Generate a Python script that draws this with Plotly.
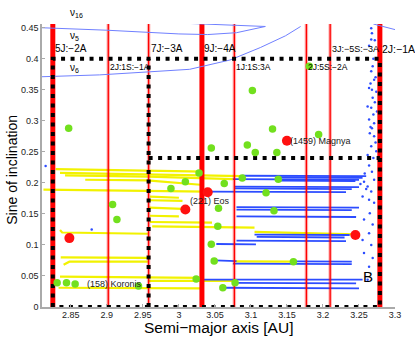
import plotly.graph_objects as go

# --- mean-motion resonances (semi-major axis in AU) ---
res_a = [2.825, 2.902, 2.958, 3.032, 3.077, 3.177, 3.210, 3.279]
res_name = ["5J:\u22122A", "2J:1S:\u22121A", "7J:\u22123A", "9J:\u22124A",
            "1J:1S:3A", "2J:5S:\u22122A", "3J:\u22125S:\u22123A", "2J:\u22121A"]
res_strong = [True, False, False, True, False, False, False, True]
res_label_y = [0.416, 0.386, 0.416, 0.416, 0.386, 0.386, 0.416, 0.416]
res_label_size = [10, 8.5, 10, 10, 8.5, 8.5, 9, 10.5]

# --- family region boundaries (dashed black) ---
box_a = [2.825, 2.825, 3.279, 3.279, 2.825, None, 2.958, 2.958, None, 2.958, 3.279]
box_sini = [0, 0.4, 0.4, 0, 0, None, 0, 0.4, None, 0.24, 0.24]

# --- secular resonances ---
nu6_a = [2.809, 2.89, 2.96, 3.015, 3.071, 3.113, 3.148, 3.169]
nu6_sini = [0.371, 0.374, 0.379, 0.383, 0.398, 0.418, 0.437, 0.452]
nu5_a = [2.809, 2.90, 3.00, 3.04, 3.08, 3.12, None, 3.27, 3.30]
nu5_sini = [0.450, 0.446, 0.440, 0.439, 0.442, 0.452, None, 0.456, 0.447]
nu16_a = [2.99, 3.04, 3.09, 3.12]
nu16_sini = [0.458, 0.456, 0.454, 0.452]

# --- orbital tracks (yellow / blue) ---
yellow_a = [2.829, 2.958, 3.035, None,
            2.835, 2.958, 3.088, None,
            2.842, 2.958, 3.075, None,
            2.870, 2.956, 3.030, None,
            2.812, 2.957, 3.038, None,
            2.960, 3.000, None,
            2.960, 3.005, None,
            2.959, 3.005, None,
            2.960, 3.000, None,
            2.960, 3.046, None,
            2.963, 3.046, 3.105, None,
            3.105, 3.245, None,
            2.835, 2.838, 2.957, None,
            2.836, 2.957, None,
            2.840, 2.848, 2.957, None,
            3.079, 3.163, None,
            2.835, 2.957, 3.030, None,
            2.957, 3.074, None,
            2.833, 2.955, 3.030]
yellow_sini = [0.222, 0.220, 0.218, None,
               0.216, 0.214, 0.211, None,
               0.212, 0.210, 0.206, None,
               0.205, 0.204, 0.197, None,
               0.189, 0.187, 0.186, None,
               0.178, 0.176, None,
               0.172, 0.171, None,
               0.160, 0.158, None,
               0.147, 0.146, None,
               0.137, 0.136, None,
               0.130, 0.129, 0.128, None,
               0.121, 0.117, None,
               0.124, 0.120, 0.118, None,
               0.080, 0.079, None,
               0.068, 0.073, 0.073, None,
               0.0735, 0.073, None,
               0.049, 0.048, 0.047, None,
               0.042, 0.042, None,
               0.031, 0.030, 0.030]

blue_a = [3.088, 3.260, None, 3.140, 3.255, None, 3.075, 3.250, None,
          3.140, 3.245, None, 3.077, 3.250, None, 3.077, 3.240, None,
          3.038, 3.232, None, 3.080, 3.250, None, 3.080, 3.240, None,
          3.080, 3.246, None, 3.105, 3.237, None, 3.108, 3.230, None,
          3.080, 3.232, None, 3.052, 3.107, None, 3.050, 3.080, None,
          3.163, 3.240, None, 3.075, 3.240, None, 3.028, 3.255, None,
          3.074, 3.246, None, 3.060, 3.250]
blue_sini = [0.2115, 0.211, None, 0.209, 0.208, None, 0.206, 0.205, None,
             0.2035, 0.203, None, 0.194, 0.193, None, 0.191, 0.190, None,
             0.186, 0.185, None, 0.161, 0.160, None, 0.157, 0.156, None,
             0.146, 0.145, None, 0.1165, 0.116, None, 0.113, 0.112, None,
             0.107, 0.106, None, 0.1015, 0.101, None, 0.075, 0.074, None,
             0.0735, 0.073, None, 0.070, 0.069, None, 0.044, 0.044, None,
             0.039, 0.038, None, 0.031, 0.030]

scatter_a = [3.267, 3.268, 3.267, 3.264, 3.269, 3.267, 3.271, 3.264, 3.268, 3.274,
             3.269, 3.262, 3.267, 3.270, 3.264, 3.271, 3.268, 3.265, 3.271, 3.267,
             3.274, 3.264, 3.268, 3.257, 3.271, 3.262, 3.267, 3.255, 3.264, 3.271,
             3.265, 3.257, 3.269, 3.264, 3.255, 3.267, 3.257, 3.269, 3.264, 3.262,
             2.815, 2.879, 3.272, 3.270, 3.273, 3.266, 3.272, 3.275, 3.266, 3.273,
             3.262, 3.270, 3.258, 3.252, 3.260]
scatter_sini = [0.449, 0.441, 0.431, 0.421, 0.388, 0.380, 0.366, 0.353, 0.350, 0.347,
                0.337, 0.323, 0.321, 0.310, 0.302, 0.296, 0.288, 0.280, 0.275, 0.259,
                0.251, 0.228, 0.218, 0.202, 0.205, 0.194, 0.186, 0.178, 0.173, 0.168,
                0.151, 0.141, 0.133, 0.119, 0.108, 0.100, 0.087, 0.079, 0.065, 0.044,
                0.227, 0.125, 0.430, 0.400, 0.370, 0.360, 0.330, 0.315, 0.290, 0.265,
                0.245, 0.240, 0.215, 0.198, 0.190]

# --- asteroids ---
green_a = [2.831, 2.844, 2.856, 2.944, 2.847, 2.908, 2.914, 2.989, 3.009, 3.028,
           3.045, 3.095, 3.106, 3.130, 3.136, 3.194, 3.102, 3.181, 3.063, 3.088,
           3.138, 3.121, 3.055, 3.132, 3.054, 3.045, 3.049, 3.159, 3.078, 3.061, 3.024]
green_sini = [0.039, 0.039, 0.037, 0.034, 0.288, 0.165, 0.141, 0.191, 0.202, 0.216,
              0.256, 0.261, 0.249, 0.287, 0.249, 0.278, 0.349, 0.388, 0.199, 0.208,
              0.206, 0.184, 0.159, 0.155, 0.130, 0.101, 0.074, 0.073, 0.039, 0.031, 0.045]
red_a = [2.848, 3.009, 3.040, 3.150, 3.245]
red_sini = [0.111, 0.157, 0.185, 0.268, 0.116]

named_text = ["(158) Koronis", "(221) Eos", "(1459) Magnya"]
named_a = [2.869, 3.012, 3.152]
named_sini = [0.0375, 0.171, 0.268]

xticks = [2.85, 2.9, 2.95, 3.0, 3.05, 3.1, 3.15, 3.2, 3.25, 3.3]
xtick_text = ["2.85", "2.9", "2.95", "3", "3.05", "3.1", "3.15", "3.2", "3.25", "3.3"]
yticks = [0, 0.05, 0.1, 0.15, 0.2, 0.25, 0.3, 0.35, 0.4, 0.45]
ytick_text = ["0", "0.05", "0.1", "0.15", "0.2", "0.25", "0.3", "0.35", "0.4", "0.45"]

FONT = "Liberation Sans, Arial, Helvetica, sans-serif"

fig = go.Figure()

# tracks
fig.add_trace(go.Scatter(x=yellow_a, y=yellow_sini, mode="lines",
                         line=dict(color="#f2f200", width=2.2)))
fig.add_trace(go.Scatter(x=blue_a, y=blue_sini, mode="lines",
                         line=dict(color="#2c4cff", width=1.8)))
fig.add_trace(go.Scatter(x=scatter_a, y=scatter_sini, mode="markers",
                         marker=dict(color="#2c4cff", size=2.5)))

# resonance lines
for a, strong in zip(res_a, res_strong):
    if strong:
        fig.add_trace(go.Scatter(x=[a, a], y=[0, 0.456], mode="lines",
                                 line=dict(color="#ff0000", width=5)))
    else:
        fig.add_trace(go.Scatter(x=[a, a], y=[0, 0.456], mode="lines",
                                 line=dict(color="rgba(255,0,0,0.3)", width=3.5)))
        fig.add_trace(go.Scatter(x=[a, a], y=[0, 0.456], mode="lines",
                                 line=dict(color="#ff0000", width=1.3)))

# secular resonances
for xs, ys in [(nu6_a, nu6_sini), (nu5_a, nu5_sini), (nu16_a, nu16_sini)]:
    fig.add_trace(go.Scatter(x=xs, y=ys, mode="lines",
                             line=dict(color="#7080ff", width=1)))

# family boundaries
fig.add_trace(go.Scatter(x=box_a, y=box_sini, mode="lines",
                         line=dict(color="black", width=4, dash="4px,5.5px")))

# asteroids
fig.add_trace(go.Scatter(x=green_a, y=green_sini, mode="markers",
                         marker=dict(color="#72e01e", size=7.5)))
fig.add_trace(go.Scatter(x=red_a, y=red_sini, mode="markers",
                         marker=dict(color="#ff1010", size=10)))

annotations = []
for a, name, ly, fs in zip(res_a, res_name, res_label_y, res_label_size):
    annotations.append(dict(x=a, y=ly, text=name, showarrow=False,
                            xanchor="left", yanchor="middle",
                            font=dict(size=fs, color="black")))
for name, a, s in zip(named_text, named_a, named_sini):
    annotations.append(dict(x=a, y=s, text=name, showarrow=False,
                            xanchor="left", yanchor="middle",
                            font=dict(size=9, color="#222")))
for txt, s in [("\u03bd<sub>5</sub>", 0.436), ("\u03bd<sub>6</sub>", 0.385)]:
    annotations.append(dict(x=2.846, y=s, text=txt, showarrow=False,
                            xanchor="left", yanchor="middle",
                            font=dict(size=10, color="black")))
# nu16 sits above the axes, so place it in paper coordinates
annotations.append(dict(x=0.074, y=1.04, xref="paper", yref="paper",
                        text="\u03bd<sub>16</sub>", showarrow=False,
                        xanchor="left", yanchor="middle",
                        font=dict(size=10, color="black")))
annotations.append(dict(x=3.263, y=0.0485, text="B", showarrow=False,
                        xanchor="center", yanchor="middle",
                        font=dict(size=15, color="black")))
# axis titles
annotations.append(dict(x=0.5, y=-0.072, xref="paper", yref="paper",
                        text="Semi\u2212major axis [AU]", showarrow=False,
                        xanchor="center", yanchor="middle",
                        font=dict(size=15.5, color="black")))
annotations.append(dict(x=-0.085, y=0.485, xref="paper", yref="paper",
                        text="Sine of inclination", showarrow=False, textangle=-90,
                        xanchor="center", yanchor="middle",
                        font=dict(size=14, color="black")))

fig.update_layout(
    width=415, height=338,
    margin=dict(l=42, r=20, t=24, b=31),
    paper_bgcolor="white", plot_bgcolor="white",
    showlegend=False,
    font=dict(family=FONT, size=9, color="#222"),
    annotations=annotations,
    xaxis=dict(range=[2.81, 3.30], tickvals=xticks, ticktext=xtick_text,
               showgrid=False, zeroline=False, showline=True, linecolor="#aaaaaa",
               linewidth=1.5, ticks="inside", ticklen=3, tickcolor="#aaaaaa",
               ticklabelstandoff=-2,
               tickfont=dict(size=9, color="#222")),
    yaxis=dict(range=[0, 0.456], tickvals=yticks, ticktext=ytick_text,
               showgrid=False, zeroline=False, showline=True, linecolor="#aaaaaa",
               linewidth=1.5, ticks="inside", ticklen=3, tickcolor="#aaaaaa",
               tickfont=dict(size=9, color="#222")),
)

# drop the default page margin so the figure sits at the window's top-left
fig.write_html("out.html", config={"displayModeBar": False},
               post_script="document.body.style.margin='0';")
